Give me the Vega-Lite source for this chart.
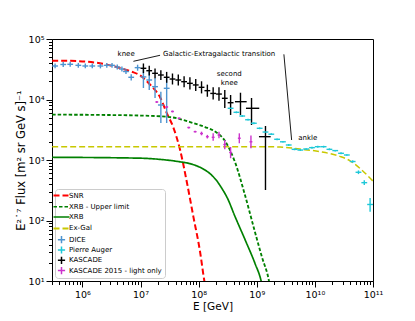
{
  "$schema": "https://vega.github.io/schema/vega-lite/v6.json",
  "width": 321,
  "height": 242,
  "autosize": {"type": "none"},
  "padding": {"left": 52, "top": 39, "right": 42, "bottom": 40},
  "background": "white",
  "config": {
    "view": {"stroke": "black", "strokeWidth": 1},
    "font": "DejaVu Sans",
    "axis": {"labelFont": "DejaVu Sans", "titleFont": "DejaVu Sans", "labelColor": "black", "titleColor": "black", "domainColor": "black", "tickColor": "black", "grid": false, "titleFontWeight": "normal"}
  },
  "datasets": {
    "curves": [
      {"s": "SNR", "E": 3.02e5, "F": 43650}, {"s": "SNR", "E": 6.31e5, "F": 43500}, {"s": "SNR", "E": 1e6, "F": 42660}, {"s": "SNR", "E": 2e6, "F": 39800}, {"s": "SNR", "E": 4.47e6, "F": 33100}, {"s": "SNR", "E": 7.08e6, "F": 28800}, {"s": "SNR", "E": 9.77e6, "F": 25100}, {"s": "SNR", "E": 1.479e7, "F": 17380}, {"s": "SNR", "E": 2.188e7, "F": 10720}, {"s": "SNR", "E": 2.818e7, "F": 6030}, {"s": "SNR", "E": 3.63e7, "F": 3550}, {"s": "SNR", "E": 4.79e7, "F": 1479}, {"s": "SNR", "E": 6.31e7, "F": 417}, {"s": "SNR", "E": 8.13e7, "F": 115}, {"s": "SNR", "E": 1.047e8, "F": 32.4}, {"s": "SNR", "E": 1.259e8, "F": 9.77}, {"s": "SNR", "E": 1.4e8, "F": 5.5},
      {"s": "XRB - Upper limit", "E": 3.02e5, "F": 5623}, {"s": "XRB - Upper limit", "E": 2e6, "F": 5560}, {"s": "XRB - Upper limit", "E": 1e7, "F": 5430}, {"s": "XRB - Upper limit", "E": 3.16e7, "F": 5130}, {"s": "XRB - Upper limit", "E": 8.02e7, "F": 4093}, {"s": "XRB - Upper limit", "E": 1.288e8, "F": 3508}, {"s": "XRB - Upper limit", "E": 1.914e8, "F": 2958}, {"s": "XRB - Upper limit", "E": 2.844e8, "F": 2061}, {"s": "XRB - Upper limit", "E": 4.217e8, "F": 927}, {"s": "XRB - Upper limit", "E": 6.266e8, "F": 264}, {"s": "XRB - Upper limit", "E": 9.31e8, "F": 64.6}, {"s": "XRB - Upper limit", "E": 1.227e9, "F": 24.9}, {"s": "XRB - Upper limit", "E": 1.622e9, "F": 10}, {"s": "XRB - Upper limit", "E": 1.8e9, "F": 5.5},
      {"s": "XRB", "E": 3.02e5, "F": 1109}, {"s": "XRB", "E": 9.77e6, "F": 1072}, {"s": "XRB", "E": 2.188e7, "F": 1023}, {"s": "XRB", "E": 4.79e7, "F": 933}, {"s": "XRB", "E": 7.08e7, "F": 871}, {"s": "XRB", "E": 1e8, "F": 776}, {"s": "XRB", "E": 1.259e8, "F": 692}, {"s": "XRB", "E": 1.585e8, "F": 589}, {"s": "XRB", "E": 1.995e8, "F": 468}, {"s": "XRB", "E": 2.512e8, "F": 339}, {"s": "XRB", "E": 3.162e8, "F": 229}, {"s": "XRB", "E": 4.169e8, "F": 120}, {"s": "XRB", "E": 6.31e8, "F": 47.9}, {"s": "XRB", "E": 9.33e8, "F": 19.5}, {"s": "XRB", "E": 1.175e9, "F": 10.5}, {"s": "XRB", "E": 1.3e9, "F": 6.8},
      {"s": "Ex-Gal", "E": 3.02e5, "F": 1660}, {"s": "Ex-Gal", "E": 1e9, "F": 1660}, {"s": "Ex-Gal", "E": 2.512e9, "F": 1640}, {"s": "Ex-Gal", "E": 5.5e9, "F": 1514}, {"s": "Ex-Gal", "E": 1.23e10, "F": 1371}, {"s": "Ex-Gal", "E": 2.69e10, "F": 1148}, {"s": "Ex-Gal", "E": 3.98e10, "F": 977}, {"s": "Ex-Gal", "E": 6.31e10, "F": 692}, {"s": "Ex-Gal", "E": 1e11, "F": 447}
    ],
    "pts": [
      {"s": "DICE", "E": 3.39e5, "El": 3.02e5, "Eh": 3.8e5, "F": 35800, "Fl": 32700, "Fh": 39300},
      {"s": "DICE", "E": 4.68e5, "El": 4.17e5, "Eh": 5.25e5, "F": 37900, "Fl": 34600, "Fh": 41600},
      {"s": "DICE", "E": 6.17e5, "El": 5.5e5, "Eh": 6.92e5, "F": 38200, "Fl": 34800, "Fh": 41900},
      {"s": "DICE", "E": 8.51e5, "El": 7.59e5, "Eh": 9.55e5, "F": 36700, "Fl": 33500, "Fh": 40300},
      {"s": "DICE", "E": 1.122e6, "El": 1.0e6, "Eh": 1.259e6, "F": 35800, "Fl": 32700, "Fh": 39300},
      {"s": "DICE", "E": 1.479e6, "El": 1.318e6, "Eh": 1.66e6, "F": 35800, "Fl": 32700, "Fh": 39300},
      {"s": "DICE", "E": 2.042e6, "El": 1.82e6, "Eh": 2.291e6, "F": 35800, "Fl": 32700, "Fh": 39300},
      {"s": "DICE", "E": 2.63e6, "El": 2.344e6, "Eh": 2.951e6, "F": 36700, "Fl": 33500, "Fh": 40300},
      {"s": "DICE", "E": 3.236e6, "El": 2.884e6, "Eh": 3.631e6, "F": 36700, "Fl": 33500, "Fh": 40300},
      {"s": "DICE", "E": 3.981e6, "El": 3.548e6, "Eh": 4.467e6, "F": 34400, "Fl": 31400, "Fh": 37800},
      {"s": "DICE", "E": 4.786e6, "El": 4.266e6, "Eh": 5.37e6, "F": 31900, "Fl": 29100, "Fh": 35000},
      {"s": "DICE", "E": 5.623e6, "El": 5.012e6, "Eh": 6.31e6, "F": 29000, "Fl": 26500, "Fh": 31800},
      {"s": "DICE", "E": 6.918e6, "El": 6.166e6, "Eh": 7.762e6, "F": 23300, "Fl": 20700, "Fh": 26100},
      {"s": "DICE", "E": 8.913e6, "El": 7.943e6, "Eh": 1.0e7, "F": 33600, "Fl": 29900, "Fh": 37600},
      {"s": "DICE", "E": 1.122e7, "El": 1.0e7, "Eh": 1.259e7, "F": 23600, "Fl": 15490, "Fh": 33200},
      {"s": "DICE", "E": 1.413e7, "El": 1.259e7, "Eh": 1.585e7, "F": 21000, "Fl": 14350, "Fh": 28500},
      {"s": "DICE", "E": 1.778e7, "El": 1.585e7, "Eh": 1.995e7, "F": 16300, "Fl": 10590, "Fh": 22600},
      {"s": "DICE", "E": 2.239e7, "El": 1.995e7, "Eh": 2.512e7, "F": 8110, "Fl": 4090, "Fh": 13460},
      {"s": "DICE", "E": 2.818e7, "El": 2.512e7, "Eh": 3.162e7, "F": 15310, "Fl": 4090, "Fh": 22600},
      {"s": "Pierre Auger", "E": 3.548e8, "El": 3.162e8, "Eh": 3.981e8, "F": 7160, "Fl": 6920, "Fh": 7410},
      {"s": "Pierre Auger", "E": 4.467e8, "El": 3.981e8, "Eh": 5.012e8, "F": 6140, "Fl": 5930, "Fh": 6360},
      {"s": "Pierre Auger", "E": 5.623e8, "El": 5.012e8, "Eh": 6.31e8, "F": 5330, "Fl": 5150, "Fh": 5520},
      {"s": "Pierre Auger", "E": 7.079e8, "El": 6.31e8, "Eh": 7.943e8, "F": 4630, "Fl": 4480, "Fh": 4800},
      {"s": "Pierre Auger", "E": 8.913e8, "El": 7.943e8, "Eh": 1e9, "F": 4050, "Fl": 3910, "Fh": 4190},
      {"s": "Pierre Auger", "E": 1.122e9, "El": 1e9, "Eh": 1.259e9, "F": 3340, "Fl": 3230, "Fh": 3460},
      {"s": "Pierre Auger", "E": 1.413e9, "El": 1.259e9, "Eh": 1.585e9, "F": 2900, "Fl": 2810, "Fh": 3010},
      {"s": "Pierre Auger", "E": 1.778e9, "El": 1.585e9, "Eh": 1.995e9, "F": 2670, "Fl": 2580, "Fh": 2760},
      {"s": "Pierre Auger", "E": 2.239e9, "El": 1.995e9, "Eh": 2.512e9, "F": 2200, "Fl": 2120, "Fh": 2270},
      {"s": "Pierre Auger", "E": 2.818e9, "El": 2.512e9, "Eh": 3.162e9, "F": 2000, "Fl": 1940, "Fh": 2070},
      {"s": "Pierre Auger", "E": 3.548e9, "El": 3.162e9, "Eh": 3.981e9, "F": 1770, "Fl": 1710, "Fh": 1830},
      {"s": "Pierre Auger", "E": 4.467e9, "El": 3.981e9, "Eh": 5.012e9, "F": 1500, "Fl": 1450, "Fh": 1560},
      {"s": "Pierre Auger", "E": 5.623e9, "El": 5.012e9, "Eh": 6.31e9, "F": 1460, "Fl": 1410, "Fh": 1510},
      {"s": "Pierre Auger", "E": 7.079e9, "El": 6.31e9, "Eh": 7.943e9, "F": 1520, "Fl": 1470, "Fh": 1570},
      {"s": "Pierre Auger", "E": 8.913e9, "El": 7.943e9, "Eh": 1e10, "F": 1600, "Fl": 1540, "Fh": 1650},
      {"s": "Pierre Auger", "E": 1.122e10, "El": 1e10, "Eh": 1.259e10, "F": 1660, "Fl": 1600, "Fh": 1720},
      {"s": "Pierre Auger", "E": 1.413e10, "El": 1.259e10, "Eh": 1.585e10, "F": 1660, "Fl": 1600, "Fh": 1720},
      {"s": "Pierre Auger", "E": 1.778e10, "El": 1.585e10, "Eh": 1.995e10, "F": 1500, "Fl": 1450, "Fh": 1560},
      {"s": "Pierre Auger", "E": 2.239e10, "El": 1.995e10, "Eh": 2.512e10, "F": 1430, "Fl": 1380, "Fh": 1470},
      {"s": "Pierre Auger", "E": 2.818e10, "El": 2.512e10, "Eh": 3.162e10, "F": 1290, "Fl": 1250, "Fh": 1340},
      {"s": "Pierre Auger", "E": 3.548e10, "El": 3.162e10, "Eh": 3.981e10, "F": 1210, "Fl": 1170, "Fh": 1250},
      {"s": "Pierre Auger", "E": 4.467e10, "El": 3.981e10, "Eh": 5.012e10, "F": 944, "Fl": 901, "Fh": 988},
      {"s": "Pierre Auger", "E": 5.623e10, "El": 5.012e10, "Eh": 6.31e10, "F": 627, "Fl": 585, "Fh": 672},
      {"s": "Pierre Auger", "E": 7.079e10, "El": 6.31e10, "Eh": 7.943e10, "F": 422, "Fl": 385, "Fh": 462},
      {"s": "Pierre Auger", "E": 8.913e10, "El": 7.943e10, "Eh": 1e11, "F": 184, "Fl": 140, "Fh": 236},
      {"s": "KASCADE", "E": 1.122e7, "El": 1e7, "Eh": 1.259e7, "F": 32800, "Fl": 27300, "Fh": 39400},
      {"s": "KASCADE", "E": 1.413e7, "El": 1.259e7, "Eh": 1.585e7, "F": 29900, "Fl": 24900, "Fh": 36000},
      {"s": "KASCADE", "E": 1.778e7, "El": 1.585e7, "Eh": 1.995e7, "F": 27100, "Fl": 22500, "Fh": 32600},
      {"s": "KASCADE", "E": 2.239e7, "El": 1.995e7, "Eh": 2.512e7, "F": 25400, "Fl": 21100, "Fh": 30500},
      {"s": "KASCADE", "E": 2.818e7, "El": 2.512e7, "Eh": 3.162e7, "F": 23300, "Fl": 18900, "Fh": 28600},
      {"s": "KASCADE", "E": 3.548e7, "El": 3.162e7, "Eh": 3.981e7, "F": 21800, "Fl": 17700, "Fh": 26900},
      {"s": "KASCADE", "E": 4.467e7, "El": 3.981e7, "Eh": 5.012e7, "F": 21000, "Fl": 17100, "Fh": 25800},
      {"s": "KASCADE", "E": 5.623e7, "El": 5.012e7, "Eh": 6.31e7, "F": 19700, "Fl": 16000, "Fh": 24200},
      {"s": "KASCADE", "E": 7.079e7, "El": 6.31e7, "Eh": 7.943e7, "F": 18500, "Fl": 14700, "Fh": 23300},
      {"s": "KASCADE", "E": 8.913e7, "El": 7.943e7, "Eh": 1e8, "F": 17400, "Fl": 13800, "Fh": 21900},
      {"s": "KASCADE", "E": 1.122e8, "El": 1e8, "Eh": 1.259e8, "F": 15900, "Fl": 12600, "Fh": 20000},
      {"s": "KASCADE", "E": 1.413e8, "El": 1.259e8, "Eh": 1.585e8, "F": 14000, "Fl": 11100, "Fh": 17600},
      {"s": "KASCADE", "E": 1.778e8, "El": 1.585e8, "Eh": 1.995e8, "F": 12600, "Fl": 10000, "Fh": 15900},
      {"s": "KASCADE", "E": 2.239e8, "El": 1.995e8, "Eh": 2.512e8, "F": 12300, "Fl": 9570, "Fh": 15900},
      {"s": "KASCADE", "E": 2.818e8, "El": 2.512e8, "Eh": 3.162e8, "F": 10470, "Fl": 7240, "Fh": 14350},
      {"s": "KASCADE", "E": 3.548e8, "El": 3.162e8, "Eh": 3.981e8, "F": 8850, "Fl": 5550, "Fh": 11860},
      {"s": "KASCADE", "E": 5.248e8, "El": 4.217e8, "Eh": 6.7e8, "F": 9200, "Fl": 5550, "Fh": 12940},
      {"s": "KASCADE", "E": 8.128e8, "El": 6.52e8, "Eh": 1.104e9, "F": 7160, "Fl": 3790, "Fh": 10590},
      {"s": "KASCADE", "E": 1.413e9, "El": 1.091e9, "Eh": 1.734e9, "F": 2430, "Fl": 319, "Fh": 3650},
      {"s": "KASCADE 2015 - light only", "E": 1.905e7, "El": 1.799e7, "Eh": 2.018e7, "F": 9100, "Fl": 8790, "Fh": 9420},
      {"s": "KASCADE 2015 - light only", "E": 2.818e7, "El": 2.66e7, "Eh": 2.985e7, "F": 7520, "Fl": 7260, "Fh": 7780},
      {"s": "KASCADE 2015 - light only", "E": 3.548e7, "El": 3.35e7, "Eh": 3.758e7, "F": 6340, "Fl": 6120, "Fh": 6570},
      {"s": "KASCADE 2015 - light only", "E": 4.624e7, "El": 4.365e7, "Eh": 4.898e7, "F": 4890, "Fl": 4720, "Fh": 5060},
      {"s": "KASCADE 2015 - light only", "E": 6.761e7, "El": 6.383e7, "Eh": 7.161e7, "F": 3440, "Fl": 3330, "Fh": 3560},
      {"s": "KASCADE 2015 - light only", "E": 8.71e7, "El": 8.222e7, "Eh": 9.226e7, "F": 2940, "Fl": 2840, "Fh": 3040},
      {"s": "KASCADE 2015 - light only", "E": 1.122e8, "El": 1.059e8, "Eh": 1.189e8, "F": 2740, "Fl": 2560, "Fh": 2940},
      {"s": "KASCADE 2015 - light only", "E": 1.413e8, "El": 1.334e8, "Eh": 1.496e8, "F": 2430, "Fl": 2270, "Fh": 2600},
      {"s": "KASCADE 2015 - light only", "E": 1.778e8, "El": 1.679e8, "Eh": 1.884e8, "F": 2370, "Fl": 2080, "Fh": 2760},
      {"s": "KASCADE 2015 - light only", "E": 2.239e8, "El": 2.113e8, "Eh": 2.371e8, "F": 2590, "Fl": 2290, "Fh": 2940},
      {"s": "KASCADE 2015 - light only", "E": 2.818e8, "El": 2.66e8, "Eh": 2.985e8, "F": 1800, "Fl": 1500, "Fh": 2140},
      {"s": "KASCADE 2015 - light only", "E": 3.548e8, "El": 3.35e8, "Eh": 3.758e8, "F": 1330, "Fl": 1070, "Fh": 1640},
      {"s": "KASCADE 2015 - light only", "E": 5.012e8, "El": 4.732e8, "Eh": 5.309e8, "F": 2290, "Fl": 1890, "Fh": 2760},
      {"s": "KASCADE 2015 - light only", "E": 7.943e8, "El": 7.499e8, "Eh": 8.414e8, "F": 2000, "Fl": 1560, "Fh": 2540}
    ],
    "annC": [
      {"E": 5.66e6, "F": 57500, "t": "knee"},
      {"E": 3.37e8, "F": 26400, "t": "second"},
      {"E": 3.37e8, "F": 19000, "t": "knee"}
    ],
    "annL": [
      {"E": 2.44e7, "F": 56500, "t": "Galactic-Extragalactic transition"},
      {"E": 5.16e9, "F": 2290, "t": "ankle"}
    ],
    "annLines": [
      {"E": 7.55e6, "F": 42800, "E2": 2.17e7, "F2": 53800},
      {"E": 2.93e9, "F": 55800, "E2": 3.98e9, "F2": 2140}
    ]
  },
  "encoding": {
    "x": {"field": "E", "type": "quantitative", "scale": {"type": "log", "domain": [3e5, 1e11], "nice": false},
      "axis": {"title": "E [GeV]", "titleFontSize": 10.5, "titlePadding": 3, "labelFontSize": 9.5, "tickCount": 20, "labelOverlap": false, "labelFlush": false, "labelPadding": 2,
        "labelExpr": "abs(log(datum.value)/LN10 - round(log(datum.value)/LN10)) < 0.01 ? '10' + ['⁰','¹','²','³','⁴','⁵','⁶','⁷','⁸','⁹','¹⁰','¹¹'][round(log(datum.value)/LN10)] : ''",
        "tickSize": {"condition": {"test": "abs(log(datum.value)/LN10 - round(log(datum.value)/LN10)) < 0.01", "value": 6}, "value": 3.5}}},
    "y": {"field": "F", "type": "quantitative", "scale": {"type": "log", "domain": [10, 1e5], "nice": false},
      "axis": {"title": "E²˙⁷ Flux [m² sr GeV s]⁻¹", "titleFontSize": 11.5, "titlePadding": 2, "labelFontSize": 9.5, "tickCount": 20, "labelOverlap": false, "labelFlush": false, "labelPadding": 2,
        "labelExpr": "abs(log(datum.value)/LN10 - round(log(datum.value)/LN10)) < 0.01 ? '10' + ['⁰','¹','²','³','⁴','⁵','⁶','⁷','⁸','⁹'][round(log(datum.value)/LN10)] : ''",
        "tickSize": {"condition": {"test": "abs(log(datum.value)/LN10 - round(log(datum.value)/LN10)) < 0.01", "value": 6}, "value": 3.5}}}
  },
  "layer": [
    {
      "data": {"name": "curves"},
      "mark": {"type": "line", "clip": true, "interpolate": "monotone"},
      "encoding": {
        "color": {"field": "s", "type": "nominal",
          "scale": {"domain": ["SNR", "XRB - Upper limit", "XRB", "Ex-Gal", "DICE", "Pierre Auger", "KASCADE", "KASCADE 2015 - light only"],
                    "range": ["#ff0000", "#008000", "#008000", "#c8c800", "#4d94d0", "#1ec8d8", "#000000", "#cc33cc"]},
          "legend": {"title": null, "orient": "bottom-left", "offset": 3, "padding": 3, "labelFontSize": 7, "labelFont": "DejaVu Sans", "labelColor": "black",
            "symbolSize": 256, "rowPadding": 1.3, "labelOffset": 4, "fillColor": "rgba(255,255,255,0.85)", "strokeColor": "#cccccc", "cornerRadius": 3, "symbolType": "stroke",
            "encode": {"symbols": {"update": {
              "shape": {"signal": "indexof(['DICE','Pierre Auger','KASCADE','KASCADE 2015 - light only'], datum.value) >= 0 ? 'M-0.45,0H0.45M0,-0.45V0.45' : 'M-1,0H1M0,-0.45M0,0.45'"},
              "strokeJoin": {"value": "round"},
              "strokeDash": {"signal": "(datum.value == 'SNR' || datum.value == 'Ex-Gal') ? [6,3] : (datum.value == 'XRB - Upper limit' ? [3.5,2] : [1,0])"},
              "strokeWidth": {"signal": "(datum.value == 'SNR' || datum.value == 'Ex-Gal') ? 2 : 1.5"}
            }}}}},
        "strokeDash": {"field": "s", "type": "nominal", "legend": null,
          "scale": {"domain": ["SNR", "XRB - Upper limit", "XRB", "Ex-Gal"], "range": [[6, 3], [3.5, 2], [1, 0], [6, 3]]}},
        "strokeWidth": {"field": "s", "type": "nominal", "legend": null,
          "scale": {"domain": ["SNR", "XRB - Upper limit", "XRB", "Ex-Gal"], "range": [2, 1.5, 1.5, 2]}}
      }
    },
    {
      "data": {"name": "pts"},
      "mark": {"type": "rule", "strokeWidth": 1.4},
      "encoding": {
        "y": {"field": "Fl", "type": "quantitative"},
        "y2": {"field": "Fh"},
        "color": {"field": "s", "type": "nominal"}
      }
    },
    {
      "data": {"name": "pts"},
      "mark": {"type": "rule", "strokeWidth": 1.4},
      "encoding": {
        "x": {"field": "El", "type": "quantitative"},
        "x2": {"field": "Eh"},
        "color": {"field": "s", "type": "nominal"}
      }
    },
    {
      "data": {"name": "annLines"},
      "mark": {"type": "rule", "color": "black", "strokeWidth": 0.9},
      "encoding": {"x2": {"field": "E2"}, "y2": {"field": "F2"}}
    },
    {
      "data": {"name": "annC"},
      "mark": {"type": "text", "align": "center", "baseline": "middle", "fontSize": 7, "font": "DejaVu Sans", "color": "black"},
      "encoding": {"text": {"field": "t"}}
    },
    {
      "data": {"name": "annL"},
      "mark": {"type": "text", "align": "left", "baseline": "middle", "fontSize": 7, "font": "DejaVu Sans", "color": "black"},
      "encoding": {"text": {"field": "t"}}
    }
  ]
}
